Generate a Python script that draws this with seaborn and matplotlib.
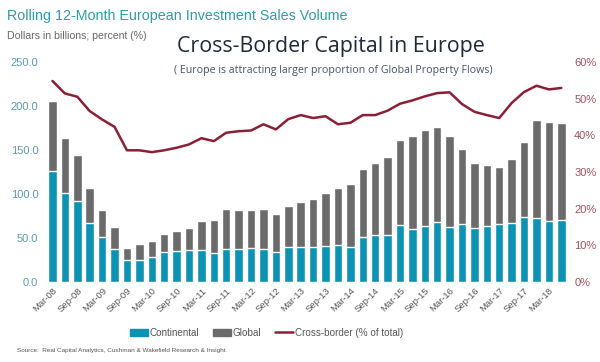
import numpy as np
import pandas as pd
import matplotlib
matplotlib.use("Agg")
import matplotlib.pyplot as plt
import seaborn as sns
from matplotlib.patches import Patch
from matplotlib.lines import Line2D

# ---- data ----
quarters = [f"{m}-{y:02d}" for y in range(8, 19) for m in ["Mar", "Jun", "Sep", "Dec"]][:42]
total = [205.3, 163.0, 144.8, 106.8, 81.8, 62.2, 38.3, 43.2, 47.0, 54.5, 57.6, 61.4,
         69.0, 70.9, 82.6, 81.8, 81.8, 83.4, 77.3, 86.4, 90.6, 94.8, 100.8, 107.3,
         111.8, 128.0, 135.7, 142.5, 161.0, 166.0, 172.7, 176.5, 166.0, 150.8, 134.9, 132.6,
         130.3, 139.4, 159.0, 184.0, 181.8, 180.3]
continental = [125.8, 101.6, 91.7, 66.7, 50.8, 37.9, 24.6, 24.6, 28.4, 34.1, 34.9, 36.0,
               36.0, 33.4, 37.9, 37.9, 38.7, 37.9, 34.1, 40.2, 39.5, 39.5, 40.9, 41.7,
               40.2, 50.8, 53.8, 53.0, 64.4, 59.9, 63.7, 68.2, 62.9, 65.6, 61.4, 63.7,
               65.6, 67.5, 73.5, 72.7, 69.8, 70.5]
cross_border = [54.8, 51.4, 50.5, 46.6, 44.3, 42.3, 35.9, 35.9, 35.4, 35.9, 36.6, 37.5,
                39.2, 38.4, 40.7, 41.1, 41.3, 43.0, 41.6, 44.4, 45.5, 44.7, 45.2, 43.0,
                43.4, 45.5, 45.5, 46.7, 48.6, 49.5, 50.6, 51.5, 51.7, 48.5, 46.4, 45.5,
                44.7, 48.8, 51.8, 53.5, 52.5, 52.9]
left_ticks = [0, 50, 100, 150, 200, 250]
right_ticks = [0, 10, 20, 30, 40, 50, 60]

df = pd.DataFrame({"quarter": quarters, "total": total, "continental": continental,
                   "cross": cross_border, "idx": np.arange(len(quarters))})

sns.set_style("white")
plt.rcParams["font.family"] = ["Liberation Sans", "DejaVu Sans"]

TEAL = "#0C93B3"
GRAY = "#6B6B6B"
RED = "#8A1F35"
LTXT = "#5A9CAE"
RTXT = "#A0525E"

fig = plt.figure(figsize=(6.0, 3.62), dpi=100)
ax = fig.add_axes([0.073, 0.221, 0.877, 0.608])

sns.barplot(data=df, x="quarter", y="total", color=GRAY, width=0.68, ax=ax,
            saturation=1, order=quarters)
sns.barplot(data=df, x="quarter", y="continental", color=TEAL, width=0.68, ax=ax,
            saturation=1, order=quarters)
ax.set_ylim(0, 250)
ax.set_xlim(-0.7, len(quarters) - 0.3)
ax.set_yticks(left_ticks)
ax.set_yticklabels([f"{v:.1f}" for v in left_ticks], color=LTXT, fontsize=8)
ax.set_xticks(np.arange(0, len(quarters), 2))
ax.set_xticklabels([quarters[i] for i in range(0, len(quarters), 2)], rotation=45,
                   ha="right", rotation_mode="anchor", fontsize=6.8, color="#555555")
ax.tick_params(axis="both", length=0, pad=3)
ax.tick_params(axis="y", pad=4)
ax.set_xlabel("")
ax.set_ylabel("")
for s in ax.spines.values():
    s.set_visible(False)

ax2 = ax.twinx()
sns.lineplot(data=df, x="idx", y="cross", color=RED, linewidth=1.8, ax=ax2)
ax2.set_ylim(0, 60)
ax2.set_yticks(right_ticks)
ax2.set_yticklabels([f"{v}%" for v in right_ticks], color=RTXT, fontsize=8)
ax2.tick_params(axis="y", length=0, pad=3)
ax2.set_xlabel("")
ax2.set_ylabel("")
for s in ax2.spines.values():
    s.set_visible(False)

fig.text(0.012, 0.955, "Rolling 12-Month European Investment Sales Volume",
         color="#2E9CA8", fontsize=10.3, va="center")
fig.text(0.012, 0.90, "Dollars in billions; percent (%)", color="#666666",
         fontsize=7.6, va="center")
fig.text(0.552, 0.872, "Cross-Border Capital in Europe", color="#1E2B3C",
         fontsize=15.4, va="center", ha="center", family=["Open Sans", "DejaVu Sans"])
fig.text(0.555, 0.806, "( Europe is attracting larger proportion of Global Property Flows)",
         color="#44546A", fontsize=7.7, va="center", ha="center",
         family=["Open Sans", "DejaVu Sans"])

handles = [Patch(color=TEAL, label="Continental"),
           Patch(color=GRAY, label="Global"),
           Line2D([0], [0], color=RED, lw=1.8, label="Cross-border (% of total)")]
fig.legend(handles=handles, loc="center", bbox_to_anchor=(0.444, 0.08), ncol=3,
           frameon=False, fontsize=7.1, handlelength=1.85, handleheight=0.8,
           columnspacing=1.4, handletextpad=0.15, labelcolor="#555555")
fig.text(0.028, 0.032, "Source:  Real Capital Analytics, Cushman & Wakefield Research & Insight",
         color="#555555", fontsize=4.6, va="center")

fig.savefig("out.png", dpi=100)
